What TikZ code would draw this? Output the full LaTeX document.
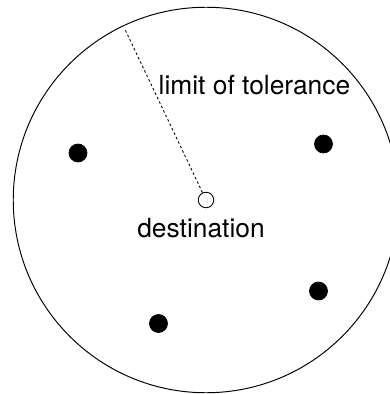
\documentclass[tikz,border=0pt]{standalone}
\usepackage{fontspec}
\setmainfont{TeX Gyre Heros}
\usepackage{tikz}
\usetikzlibrary{positioning,calc}
\tikzset{
  bound/.style={draw=black,line width=0.55pt},
  spot/.style={circle,fill=black,draw=black,minimum size=3.6mm,inner sep=0pt},
  dest/.style={circle,fill=white,draw=black,line width=0.5pt,minimum size=3.1mm,inner sep=0pt},
  radius/.style={dash pattern=on 1.4pt off 1.4pt,line width=0.5pt},
  lbl/.style={inner sep=0pt,font=\fontsize{15}{18}\selectfont},
}

\begin{document}
\begin{tikzpicture}
  \useasboundingbox (-4.12,-3.88) rectangle (3.68,4.0);

  % tolerance zone
  \draw[bound] (0,0) circle (3.855);
  \coordinate (limit) at (115.4:3.78);

  % destination and its radius
  \node[dest] (dst) at (0,0) {};
  \draw[radius] (dst) -- (limit);
  \node[lbl,anchor=base] (dstlabel) at (-0.10,-0.75) {destination};
  \node[lbl,anchor=base west] (limlabel) at (-0.953,2.1) {limit of tolerance};

  % arrived points
  \node[spot] (p1) at (-2.56,0.94) {};
  \node[spot] (p2) at (2.35,1.12) {};
  \node[spot] (p3) at (2.25,-1.82) {};
  \node[spot] (p4) at (-0.95,-2.47) {};
\end{tikzpicture}
\end{document}
